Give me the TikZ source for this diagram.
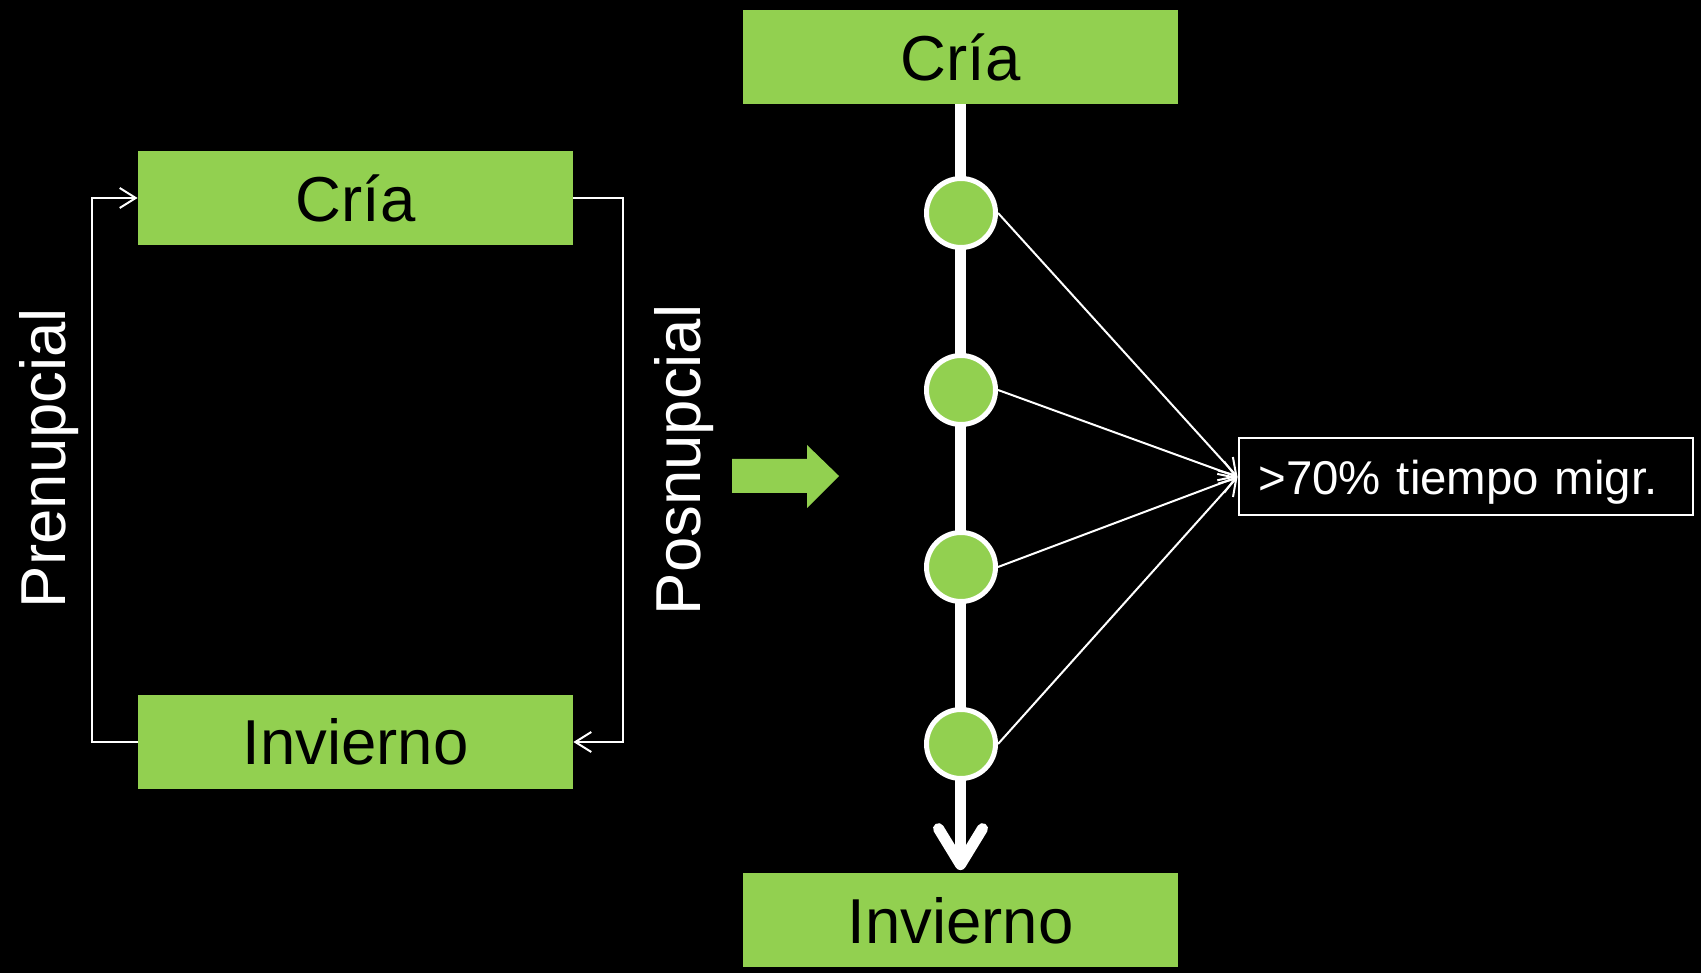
\documentclass[tikz,border=0pt]{standalone}
\usepackage{fontspec}
\setmainfont{Liberation Sans}
\usetikzlibrary{arrows.meta}
\usetikzlibrary{positioning}
\definecolor{leaf}{HTML}{92D050}
\tikzstyle{season} = [
        rectangle, fill=leaf, text=black,
        minimum width=217.5pt, minimum height=47pt, inner sep=0pt,
        font=\fontsize{31.75}{38}\selectfont
    ]
\tikzstyle{waypoint} = [
        circle, fill=leaf, draw=white, line width=2.5pt,
        minimum size=34.5pt, inner sep=0pt
    ]
\tikzstyle{phase} = [text=white, rotate=90, font=\fontsize{31.75}{38}\selectfont]
\tikzstyle{line} = [draw, white, line width=1pt, -{Straight Barb[length=8pt,width=10pt]}]

\begin{document}
\begin{tikzpicture}[x=0.5pt, y=0.5pt, node distance=88.5pt]
    \fill[black] (0,0) rectangle (1701,973);
    \useasboundingbox (0,0) rectangle (1701,973);

    % left: cycle
    \node [season] (criaL) at (355.5,775) {Cría};
    \node [season, below of=criaL, node distance=272pt] (invL) {Invierno};
    \node [phase] (pre) at (49,515) {Prenupcial};
    \node [phase] (pos) at (684,513) {Posnupcial};
    \path [line] (invL.west) -- ++(-46,0) |- (criaL.west);
    \path [line] (criaL.east) -- ++(50,0) |- (invL.east);

    \fill[leaf] (732,480) -- (807,480) -- (807,465) -- (839,497)
        -- (807,528) -- (807,514) -- (732,514) -- cycle;

    % right: route with stops
    \node [season] (criaR) at (960.5,916) {Cría};
    \node [season] (invR) at (960.5,52.5) {Invierno};
    \draw [white, line width=5.5pt, shorten >=1.5pt,
        -{Straight Barb[length=18pt,width=22pt,round]}] (criaR) -- (invR);
    \node [waypoint] (p1) at (961,760) {};
    \node [waypoint, below of=p1] (p2) {};
    \node [waypoint, below of=p2] (p3) {};
    \node [waypoint, below of=p3] (p4) {};

    \node [draw=white, line width=1pt, text=white, text width=207pt,
        align=left, inner xsep=10pt, minimum height=38.5pt, text depth=0pt,
        font=\fontsize{23.7}{28}\selectfont] (mig) at (1465.5,496) {>70\% tiempo migr.};

    \foreach \p in {p1,p2,p3,p4}
        \path [line] (\p.east) -- (mig.west);
\end{tikzpicture}
\end{document}
